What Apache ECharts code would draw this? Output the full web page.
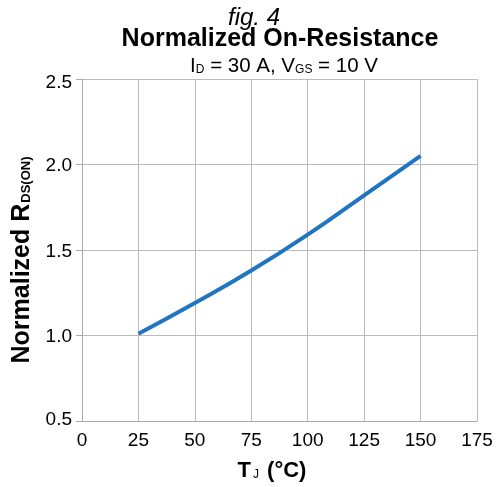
<!DOCTYPE html>
<html><head><meta charset="utf-8">
<script src="https://cdn.jsdelivr.net/npm/echarts@6/dist/echarts.min.js"></script>
<style>html,body{margin:0;padding:0;background:#fff}#c{width:498px;height:487px}</style>
</head><body><div id="c"></div>
<script>
const tempC = [25, 50, 75, 100, 125, 150];
const rdsNorm = [1.01, 1.19, 1.38, 1.59, 1.82, 2.05];
const xTicks = [0, 25, 50, 75, 100, 125, 150, 175];
const yTicks = [0.5, 1.0, 1.5, 2.0, 2.5];

const FONT = '"Liberation Sans", Arial, sans-serif';
const chart = echarts.init(document.getElementById('c'));
chart.setOption({
  backgroundColor: '#fff',
  animation: false,
  title: [
    { text: 'fig. 4', left: 249, top: 1, textAlign: 'center',
      textStyle: { fontFamily: FONT, fontStyle: 'italic', fontWeight: 'normal', fontSize: 24, color: '#000' } },
    { text: 'Normalized On-Resistance', left: 275, top: 22, textAlign: 'center',
      textStyle: { fontFamily: FONT, fontWeight: 'bold', fontSize: 25, color: '#000' } },
    { text: '{n|I}{s|D}{n| = 30 A, V}{s|GS}{n| = 10 V}', left: 279, top: 51, textAlign: 'center',
      textStyle: { fontFamily: FONT, fontWeight: 'normal', rich: {
        n: { fontFamily: FONT, fontWeight: 'normal', fontSize: 20.5, color: '#000' },
        s: { fontFamily: FONT, fontWeight: 'normal', fontSize: 12, color: '#000', padding: [6, 0, 0, 0] }
      } } }
  ],
  grid: { left: 82, right: 21, top: 79, bottom: 58, containLabel: false },
  xAxis: {
    type: 'value', min: 0, max: 175, interval: 25,
    name: '{b|T}{s|J}{b| (°C)}', nameLocation: 'middle', nameGap: 39,
    nameTextStyle: { padding: [0, 15, 0, 0], rich: {
      b: { fontFamily: FONT, fontWeight: 'bold', fontSize: 22, color: '#000' },
      s: { fontFamily: FONT, fontWeight: 'normal', fontSize: 12, color: '#000', padding: [8, 2, 0, 2] }
    } },
    axisLine: { show: true, lineStyle: { color: '#aaa', width: 1 } },
    axisTick: { show: false },
    axisLabel: { fontFamily: FONT, fontSize: 19, color: '#000', margin: 10,
      formatter: v => xTicks.includes(v) ? String(v) : '' },
    splitLine: { show: true, lineStyle: { color: '#bbb', width: 1 } }
  },
  yAxis: {
    type: 'value', min: 0.5, max: 2.5, interval: 0.5,
    name: '{b|Normalized R}{s|DS(ON)}', nameLocation: 'middle', nameGap: 40, nameRotate: 90,
    nameTextStyle: { padding: [0, 20, 0, 0], rich: {
      b: { fontFamily: FONT, fontWeight: 'bold', fontSize: 25, color: '#000' },
      s: { fontFamily: FONT, fontWeight: 'bold', fontSize: 13, color: '#000', padding: [9, 0, 0, 1] }
    } },
    axisLine: { show: true, lineStyle: { color: '#aaa', width: 1 } },
    axisTick: { show: true, length: 6, lineStyle: { color: '#aaa' } },
    axisLabel: { fontFamily: FONT, fontSize: 19, color: '#000', margin: 10,
      formatter: v => {
        if (!yTicks.includes(v)) return '';
        const s = v.toFixed(1);
        if (v === 2.5) return '{top|' + s + '}';
        if (v === 0.5) return '{bot|' + s + '}';
        return '{mid|' + s + '}';
      },
      rich: {
        top: { fontFamily: FONT, fontSize: 19, color: '#000', padding: [8, 0, 0, 0] },
        bot: { fontFamily: FONT, fontSize: 19, color: '#000', padding: [0, 0, 2, 0] },
        mid: { fontFamily: FONT, fontSize: 19, color: '#000', padding: [3, 0, 0, 0] }
      }
    },
    splitLine: { show: true, lineStyle: { color: '#bbb', width: 1 } }
  },
  series: [{
    type: 'line', smooth: true, showSymbol: false,
    data: tempC.map((t, i) => [t, rdsNorm[i]]),
    lineStyle: { color: '#1f75c0', width: 4 }
  }]
});
</script></body></html>
